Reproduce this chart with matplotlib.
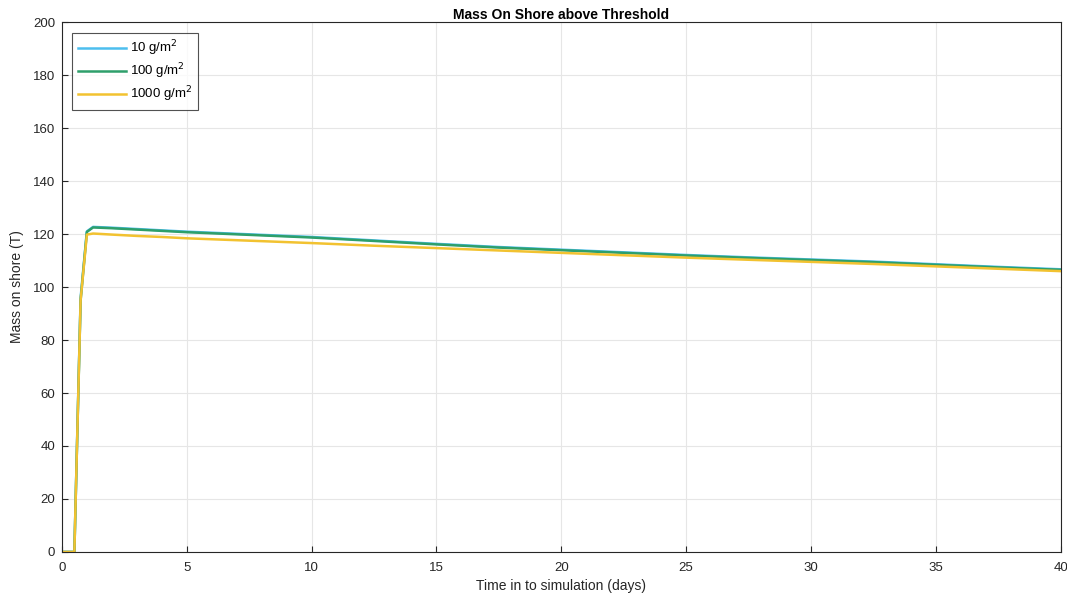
import matplotlib
matplotlib.use("Agg")
import matplotlib.pyplot as plt

plt.rcParams['font.family'] = ['Liberation Sans', 'DejaVu Sans']

# time in days
t = [0, 0.25, 0.5, 0.75, 1.0, 1.25, 2, 3, 4, 5, 7.5, 10, 12.5, 15, 17.5, 20,
     22.5, 25, 27.5, 30, 32.5, 35, 37.5, 40]

mass_10 = [0, 0, 0, 96, 121.0, 122.7, 122.4, 121.9, 121.4, 120.9, 119.9, 118.9,
           117.6, 116.3, 115.1, 114.1, 113.1, 112.1, 111.2, 110.4, 109.6, 108.6,
           107.6, 106.7]
mass_100 = [0, 0, 0, 95, 120.8, 122.5, 122.2, 121.7, 121.2, 120.7, 119.7, 118.7,
            117.4, 116.1, 114.9, 113.9, 112.9, 111.9, 111.0, 110.2, 109.4, 108.4,
            107.4, 106.5]
mass_1000 = [0, 0, 0, 95, 119.8, 120.2, 119.8, 119.3, 118.9, 118.4, 117.5, 116.6,
             115.6, 114.7, 113.8, 112.9, 112.0, 111.1, 110.3, 109.5, 108.7, 107.8,
             106.9, 106.0]

labels = ['10 g/m$^2$', '100 g/m$^2$', '1000 g/m$^2$']
colors = ['#4DBEEE', '#2E9F6B', '#F2C230']

fig, ax = plt.subplots(figsize=(10.67, 5.98), dpi=100)
fig.subplots_adjust(left=0.058, right=0.994, top=0.963, bottom=0.077)

for y, lab, c in zip([mass_10, mass_100, mass_1000], labels, colors):
    ax.plot(t, y, color=c, lw=1.8, label=lab)

ax.set_xlim(0, 40)
ax.set_ylim(0, 200)
ax.set_xticks(range(0, 41, 5))
ax.set_yticks(range(0, 201, 20))
ax.grid(True, color='#e6e6e6', lw=0.8)
ax.set_axisbelow(True)
for s in ax.spines.values():
    s.set_color('#262626')
    s.set_linewidth(0.8)
ax.tick_params(direction='in', colors='#262626', labelsize=9.5, length=4)
ax.tick_params(axis='x', pad=7)
ax.tick_params(axis='y', pad=5)

ax.set_title('Mass On Shore above Threshold', fontsize=10, fontweight='bold', pad=1.5)
ax.set_xlabel('Time in to simulation (days)', fontsize=10, color='#262626', labelpad=4)
ax.set_ylabel('Mass on shore (T)', fontsize=10, color='#262626', labelpad=6)

leg = ax.legend(loc='upper left', fontsize=9.5, frameon=True, fancybox=False,
                edgecolor='#262626', borderaxespad=0.8, handlelength=3.6,
                labelspacing=0.25, borderpad=0.45, handletextpad=0.3)
leg.get_frame().set_linewidth(0.8)

fig.savefig('out.png', dpi=100)
